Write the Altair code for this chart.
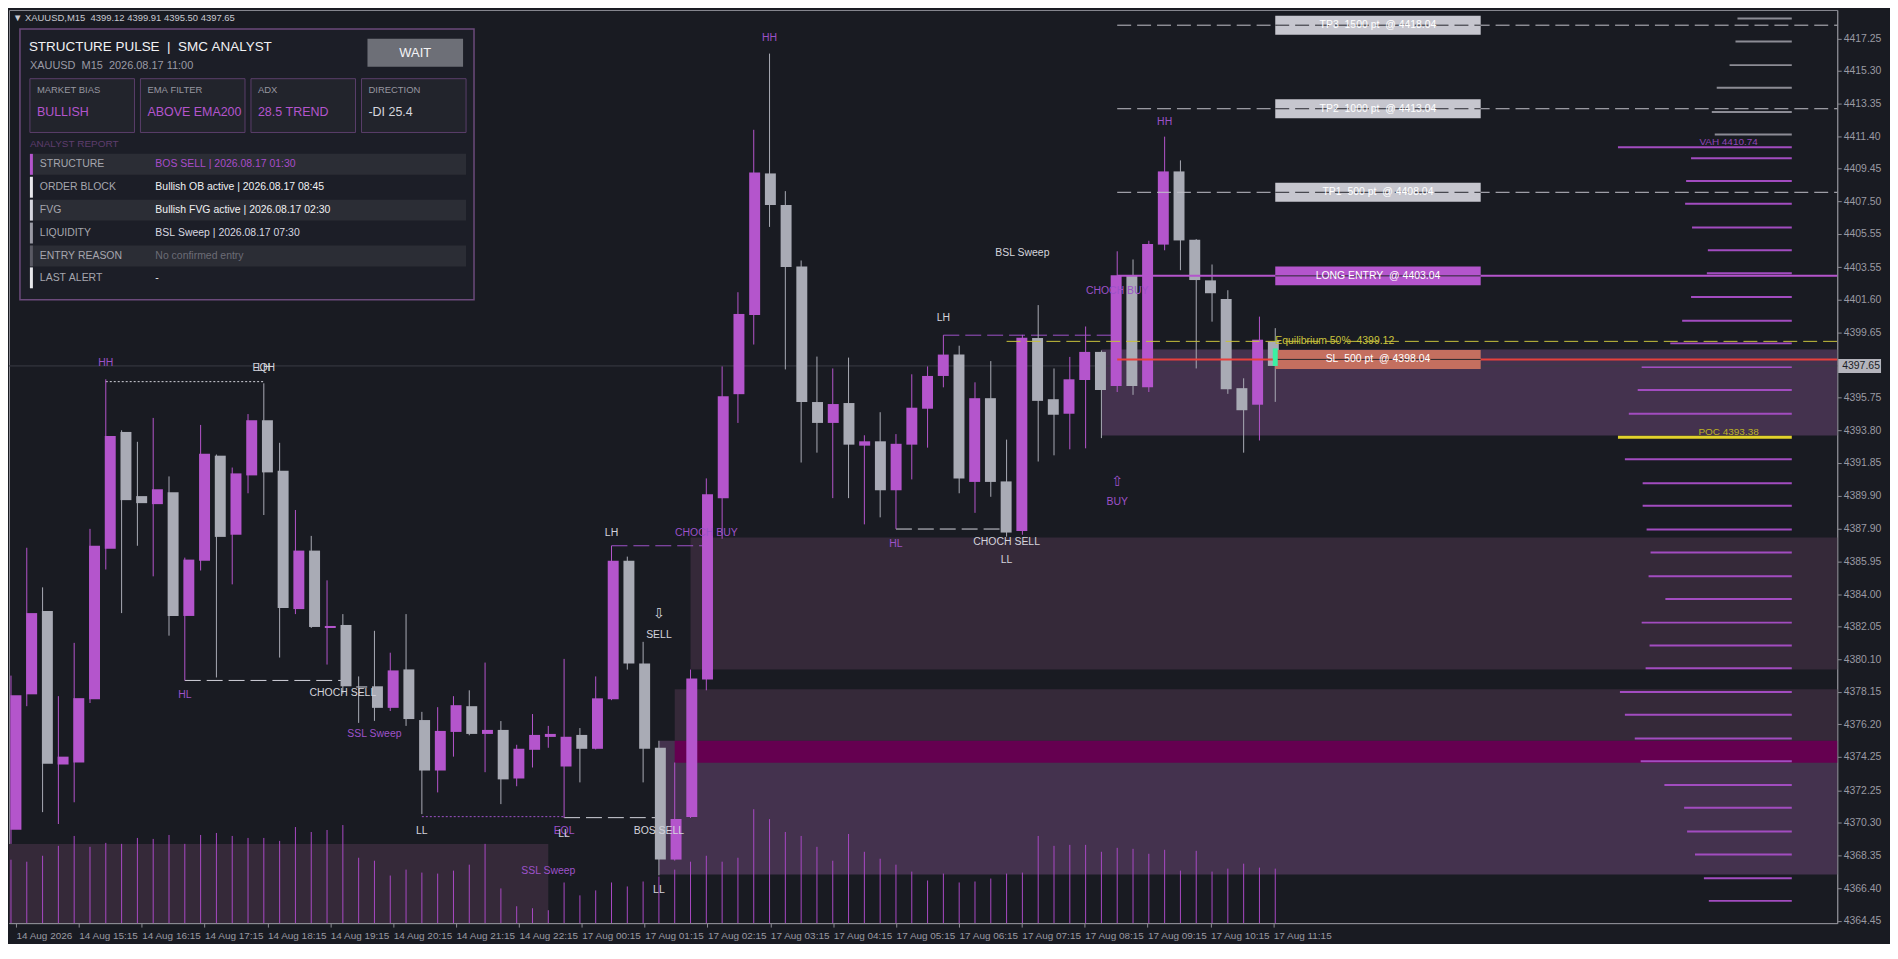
import json
import pandas as pd
import altair as alt

# XAUUSD M15 candles, bar 0 = 14 Aug 14:15 ... bar 80 = 17 Aug 11:15
OPEN = [4369.90, 4378.00, 4382.98, 4373.80, 4373.92, 4377.71, 4386.71, 4393.70, 4389.86, 4389.38,
        4390.09, 4382.69, 4386.00, 4392.28, 4387.55, 4391.10, 4394.40, 4391.38, 4383.10, 4386.60,
        4381.97, 4382.15, 4378.48, 4378.48, 4377.19, 4379.49, 4376.46, 4373.44, 4375.75, 4377.29,
        4375.63, 4375.87, 4372.97, 4374.68, 4375.45, 4373.68, 4375.57, 4374.74, 4377.71, 4385.99,
        4379.84, 4374.80, 4368.11, 4370.66, 4378.89, 4389.74, 4395.96, 4400.70, 4409.17, 4407.28,
        4403.60, 4395.49, 4394.24, 4395.43, 4392.88, 4393.14, 4390.21, 4392.94, 4395.09, 4397.05,
        4398.33, 4390.71, 4395.72, 4390.74, 4387.78, 4399.32, 4395.66, 4394.79, 4396.81, 4398.49,
        4396.45, 4403.03, 4396.37, 4404.91, 4409.29, 4405.20, 4402.77, 4401.65, 4396.32, 4395.33,
        4399.12]
HIGH = [4379.12, 4386.77, 4384.40, 4377.89, 4381.08, 4387.90, 4396.85, 4393.80, 4393.11, 4394.54,
        4391.04, 4386.18, 4394.12, 4392.35, 4391.57, 4394.77, 4396.61, 4393.05, 4389.03, 4387.48,
        4384.82, 4382.80, 4379.07, 4381.80, 4380.49, 4382.80, 4376.95, 4377.23, 4377.89, 4378.24,
        4379.90, 4376.40, 4374.98, 4376.82, 4376.11, 4380.12, 4375.98, 4379.07, 4386.89, 4386.24,
        4381.14, 4375.22, 4373.92, 4379.48, 4390.92, 4397.62, 4402.06, 4411.78, 4416.34, 4408.11,
        4403.96, 4398.21, 4397.50, 4398.15, 4393.50, 4394.88, 4393.57, 4397.15, 4397.62, 4399.49,
        4398.86, 4396.67, 4397.94, 4393.24, 4399.51, 4401.29, 4397.50, 4398.19, 4400.01, 4398.58,
        4404.51, 4404.02, 4405.14, 4411.37, 4409.95, 4405.24, 4403.72, 4402.18, 4396.91, 4400.60,
        4399.91]
LOW = [4369.05, 4377.29, 4370.95, 4370.24, 4371.54, 4377.48, 4385.47, 4382.86, 4386.89, 4385.06,
       4381.51, 4378.83, 4385.41, 4379.01, 4384.58, 4390.03, 4388.73, 4380.20, 4382.80, 4381.97,
       4379.78, 4378.04, 4376.29, 4376.41, 4377.00, 4376.11, 4370.83, 4372.13, 4374.27, 4375.55,
       4373.34, 4371.43, 4372.50, 4373.62, 4374.80, 4370.60, 4372.73, 4374.70, 4377.65, 4379.48,
       4372.73, 4367.17, 4368.05, 4370.60, 4378.24, 4387.31, 4394.24, 4398.93, 4405.97, 4397.44,
       4391.87, 4392.46, 4389.74, 4389.74, 4388.17, 4388.59, 4387.90, 4390.86, 4392.76, 4396.37,
       4390.03, 4388.86, 4389.82, 4387.43, 4387.55, 4391.93, 4392.30, 4392.66, 4392.72, 4393.33,
       4396.09, 4395.92, 4396.09, 4404.57, 4403.38, 4397.50, 4400.30, 4395.98, 4392.46, 4393.19,
       4395.50]
CLOSE = [4377.94, 4382.86, 4373.85, 4374.27, 4377.77, 4386.89, 4393.46, 4389.62, 4389.44, 4390.27,
         4382.69, 4386.06, 4392.40, 4387.42, 4391.22, 4394.40, 4391.28, 4383.16, 4386.60, 4382.03,
         4382.09, 4378.48, 4378.40, 4377.19, 4379.43, 4376.52, 4373.44, 4375.81, 4377.35, 4375.63,
         4375.87, 4372.91, 4374.74, 4375.57, 4375.63, 4375.46, 4374.74, 4377.76, 4385.99, 4379.84,
         4374.74, 4368.11, 4370.54, 4378.95, 4389.97, 4395.84, 4400.76, 4409.23, 4407.28, 4403.57,
         4395.49, 4394.24, 4395.37, 4392.94, 4393.14, 4390.21, 4392.99, 4395.15, 4397.05, 4398.33,
         4390.92, 4395.72, 4390.71, 4387.68, 4399.34, 4395.56, 4394.73, 4396.85, 4398.49, 4396.21,
         4403.07, 4396.45, 4404.95, 4409.29, 4405.16, 4402.79, 4402.00, 4396.26, 4395.00, 4399.22,
         4397.65]
VOLUME = [640, 620, 680, 780, 880, 770, 810, 800, 860, 850, 890, 800, 890, 910, 880, 860, 860, 830,
          970, 920, 940, 990, 660, 630, 480, 540, 510, 500, 530, 590, 800, 350, 170, 150, 130, 410,
          280, 330, 410, 370, 420, 470, 540, 620, 680, 620, 660, 1150, 1050, 920, 880, 770, 630, 900,
          720, 650, 590, 520, 430, 500, 410, 420, 450, 500, 510, 880, 780, 790, 790, 720, 760, 750,
          700, 740, 530, 730, 520, 550, 600, 560, 550]

X_LABELS = ["14 Aug 2026", "14 Aug 15:15", "14 Aug 16:15", "14 Aug 17:15", "14 Aug 18:15",
            "14 Aug 19:15", "14 Aug 20:15", "14 Aug 21:15", "14 Aug 22:15", "17 Aug 00:15",
            "17 Aug 01:15", "17 Aug 02:15", "17 Aug 03:15", "17 Aug 04:15", "17 Aug 05:15",
            "17 Aug 06:15", "17 Aug 07:15", "17 Aug 08:15", "17 Aug 09:15", "17 Aug 10:15",
            "17 Aug 11:15"]
Y_TICKS = [4417.25, 4415.30, 4413.35, 4411.40, 4409.45, 4407.50, 4405.55, 4403.55, 4401.60,
           4399.65, 4395.75, 4393.80, 4391.85, 4389.90, 4387.90, 4385.95, 4384.00, 4382.05,
           4380.10, 4378.15, 4376.20, 4374.25, 4372.25, 4370.30, 4368.35, 4366.40, 4364.45]

# volume profile (right side)
PROFILE_PRICE = [4418.44, 4417.07, 4415.65, 4414.29, 4412.85, 4411.50, 4410.08, 4408.72, 4407.36,
                 4405.93, 4404.57, 4403.19, 4401.78, 4400.36, 4399.00, 4397.58, 4396.21, 4394.79,
                 4393.38, 4392.07, 4390.63, 4389.28, 4387.86, 4386.49, 4385.07, 4383.71, 4382.29,
                 4380.92, 4379.56, 4378.14, 4376.78, 4375.36, 4374.00, 4372.57, 4371.21, 4369.79,
                 4368.42, 4367.00, 4365.64]
PROFILE_VOL = [55, 57, 63, 76, 81, 78, 102, 107, 108, 101, 85, 86, 102, 111, 123, 152, 156, 165,
               176, 169, 151, 151, 147, 143, 145, 128, 152, 144, 148, 174, 169, 159, 153, 129, 109,
               106, 98, 89, 84]
VAH = 4410.74
POC = 4393.38

# supply / demand zones (None = chart edge)
ZONE_START = [None, 43, 42, 41, 42, 69]
ZONE_END = [34, None, None, None, None, None]
ZONE_TOP = [4369.05, 4387.38, 4378.30, 4375.22, 4375.22, 4398.63]
ZONE_BOTTOM = [None, 4379.49, 4375.22, 4367.22, 4373.91, 4393.49]
ZONE_KIND = ["dark", "dark", "dark", "light", "magenta", "light"]

# structure lines
SEG_START = [6, 11, 26, 35, 38, 56, 59]
SEG_END = [16, 21, 35, 41, 44, 63, 70]
SEG_PRICE = [4396.71, 4378.83, 4370.68, 4370.62, 4386.89, 4387.89, 4399.49]
SEG_STYLE = ["dot", "dash", "dot", "dash", "dash", "dash", "dash"]
SEG_TONE = ["bear", "bear", "bull", "bear", "bull", "bear", "bull"]

# structure labels
LBL_TEXT = ["HH", "EQH", "LH", "HL", "CHOCH SELL", "SSL Sweep", "LL", "EQL", "LL", "SSL Sweep",
            "BOS SELL", "LL", "LH", "SELL", "CHOCH BUY", "HH", "HL", "LH", "BSL Sweep",
            "CHOCH SELL", "LL", "CHOCH BUY", "HH", "BUY"]
LBL_BAR = [6, 16, 16, 11, 21, 23, 26, 35, 35, 34, 41, 41, 38, 41, 44, 48, 56, 59, 64, 63, 63, 70, 73, 70]
LBL_PRICE = [4397.80, 4397.50, 4397.50, 4377.94, 4378.06, 4375.63, 4369.84, 4369.84, 4369.66,
             4367.40, 4369.81, 4366.26, 4387.63, 4381.56, 4387.66, 4417.27, 4387.01, 4400.49,
             4404.43, 4387.13, 4386.06, 4402.16, 4412.25, 4389.50]
LBL_TONE = ["bull", "bear", "bear", "bull", "bear", "bull", "bear", "bull", "bear", "bull", "bear",
            "bear", "bear", "bear", "bull", "bull", "bull", "bear", "bear", "bear", "bear", "bull",
            "bull", "bull"]
ARROW_TEXT = ["\u21e9", "\u21e7"]
ARROW_BAR = [41, 70]
ARROW_PRICE = [4382.80, 4390.68]
ARROW_TONE = ["bear", "bull"]

# trade levels
LEVEL_NAME = ["TP3", "TP2", "TP1", "ENTRY", "EQ", "SL"]
LEVEL_PRICE = [4418.04, 4413.04, 4408.04, 4403.04, 4399.12, 4398.04]
LEVEL_START = [70, 70, 70, 70, 63, 70]
LEVEL_TEXT = ["TP3  1500 pt  @ 4418.04", "TP2  1000 pt  @ 4413.04", "TP1  500 pt  @ 4408.04",
              "LONG ENTRY  @ 4403.04", "Equilibrium 50%  4399.12", "SL  500 pt  @ 4398.04"]
BOX_START, BOX_END = 80, 93
MARKER_TOP = 4398.70

# panel content
PANEL_TITLE = "STRUCTURE PULSE  |  SMC ANALYST"
PANEL_SUB = "XAUUSD  M15  2026.08.17 11:00"
CARD_LABEL = ["MARKET BIAS", "EMA FILTER", "ADX", "DIRECTION"]
CARD_VALUE = ["BULLISH", "ABOVE EMA200", "28.5 TREND", "-DI 25.4"]
ROW_NAME = ["STRUCTURE", "ORDER BLOCK", "FVG", "LIQUIDITY", "ENTRY REASON", "LAST ALERT"]
ROW_VALUE = ["BOS SELL | 2026.08.17 01:30", "Bullish OB active | 2026.08.17 08:45",
             "Bullish FVG active | 2026.08.17 02:30", "BSL Sweep | 2026.08.17 07:30",
             "No confirmed entry", "-"]
HEADER = "\u25bc XAUUSD,M15  4399.12 4399.91 4395.50 4397.65"

# ---------------- look ----------------
W, H = 1836, 917
XMIN, XMAX = -0.125, 115.56
YMIN, YMAX = 4364.31, 4418.95
KX = W / 1851
BG = "#191b22"
UP, DOWN = "#b455cc", "#a9abb5"
FRAME = "#8a8a92"
TONE = {"bull": "#9d52c9", "bear": "#d4d4dc"}
ZONE_COLORS = {"dark": "#352939", "light": "#44324e", "magenta": "#650050"}
FONT = "Liberation Sans"
NARROW = "Liberation Sans Narrow, Liberation Sans"

xs = alt.Scale(domain=[XMIN, XMAX], nice=False, zero=False)
ys = alt.Scale(domain=[YMIN, YMAX], nice=False, zero=False)


def bx(f):
    return alt.X(f + ":Q", scale=xs, axis=None)


def by(f):
    return alt.Y(f + ":Q", scale=ys, axis=None)


def col(f):
    return alt.Color(f + ":N", scale=None)


def keep_spaces(s):
    # svg collapses runs of spaces, the terminal text uses double spaces
    return s.replace(" ", "\u00a0")


# candles
cd = pd.DataFrame({"i": range(len(OPEN)), "open": OPEN, "high": HIGH, "low": LOW,
                   "close": CLOSE, "vol": VOLUME})
cd["c"] = [UP if c >= o else DOWN for o, c in zip(OPEN, CLOSE)]
cd["zero"] = 0

x_axis = alt.Axis(values=list(range(0, len(OPEN), 4)),
                  labelExpr=json.dumps(X_LABELS) + "[round(datum.value / 4)]",
                  labelAlign="left", labelColor="#9a9aa2", labelFont=NARROW, labelFontSize=10,
                  labelPadding=3, labelOverlap=False, labelBound=False, labelFlush=False,
                  tickColor=FRAME, tickSize=4, domainColor=FRAME, grid=False, title=None)
y_axis = alt.Axis(orient="right", values=Y_TICKS, format=".2f", labelColor="#9a9aa2",
                  labelFont=NARROW, labelFontSize=10.5, labelPadding=2, labelOverlap=False,
                  labelBound=False, tickColor=FRAME, tickSize=4, domainColor=FRAME, grid=False,
                  title=None)

wick = alt.Chart(cd).mark_rule(strokeWidth=1).encode(
    x=bx("i"), y=by("low"), y2="high", color=col("c"))
body = alt.Chart(cd).mark_bar(size=11).encode(
    x=alt.X("i:Q", scale=xs, axis=x_axis),
    y=alt.Y("open:Q", scale=ys, axis=y_axis),
    y2="close", color=col("c"))
vol = alt.Chart(cd).mark_rule(strokeWidth=1, color="#a849c4").encode(
    x=bx("i"),
    y=alt.Y("vol:Q", scale=alt.Scale(domain=[0, 9220], nice=False), axis=None),
    y2="zero")

# zones
zd = pd.DataFrame({
    "x0": [XMIN if s is None else s for s in ZONE_START],
    "x1": [XMAX if e is None else e for e in ZONE_END],
    "top": ZONE_TOP,
    "bot": [YMIN if b is None else b for b in ZONE_BOTTOM],
    "c": [ZONE_COLORS[k] for k in ZONE_KIND]})
zones = alt.Chart(zd).mark_rect().encode(x=bx("x0"), x2="x1", y=by("top"), y2="bot", color=col("c"))

# volume profile
ps = alt.Scale(domain=[0, 200], range=[1805 * KX, 1605 * KX], nice=False, zero=False)
pf = pd.DataFrame({"price": PROFILE_PRICE + [VAH], "v": PROFILE_VOL + [max(PROFILE_VOL)]})
pf["c"] = ["#8c8c95" if p > VAH else ("#e2d22c" if p == POC else "#a24cc0") for p in pf["price"]]
pf["w"] = [3 if p == POC else 2 for p in pf["price"]]
pf["zero"] = 0
prof = alt.Chart(pf).mark_rule().encode(
    x=alt.X("v:Q", scale=ps, axis=None), x2="zero", y=by("price"), color=col("c"),
    strokeWidth=alt.StrokeWidth("w:Q", scale=None))
ptd = pd.DataFrame({"price": [VAH, POC], "v": [64, 64],
                    "t": [f"VAH {VAH:.2f}", f"POC {POC:.2f}"], "c": ["#8f45b8", "#bdb224"]})
prof_txt = alt.Chart(ptd).mark_text(font=FONT, fontSize=10, dy=-5).encode(
    x=alt.X("v:Q", scale=ps, axis=None), y=by("price"), text="t:N", color=col("c"))

# current price line
cur = alt.Chart(pd.DataFrame({"p": [CLOSE[-1]], "x0": [XMIN], "x1": [XMAX]})).mark_rule(
    color="#3a3c46", strokeWidth=1).encode(x=bx("x0"), x2="x1", y=by("p"))

# structure lines
sd = pd.DataFrame({"x0": SEG_START, "x1": SEG_END, "p": SEG_PRICE, "s": SEG_STYLE,
                   "c": [TONE[t] for t in SEG_TONE]})
dots = alt.Chart(sd[sd.s == "dot"]).mark_rule(strokeDash=[2, 2], strokeWidth=1).encode(
    x=bx("x0"), x2="x1", y=by("p"), color=col("c"))
dashes = alt.Chart(sd[sd.s == "dash"]).mark_rule(strokeDash=[16, 6], strokeWidth=1).encode(
    x=bx("x0"), x2="x1", y=by("p"), color=col("c"))

# trade levels
LINE_C = {"TP3": "#c2c2ca", "TP2": "#c2c2ca", "TP1": "#c2c2ca", "ENTRY": UP, "EQ": "#c9c23c",
          "SL": "#e8413c"}
BOX_C = {"TP3": "#c6c6ce", "TP2": "#c6c6ce", "TP1": "#c6c6ce", "ENTRY": "#b455cc", "SL": "#c46f5f"}
ld = pd.DataFrame({"n": LEVEL_NAME, "p": LEVEL_PRICE, "x0": LEVEL_START,
                   "t": [keep_spaces(t) for t in LEVEL_TEXT]})
ld["x1"] = XMAX
ld["b0"] = BOX_START
ld["b1"] = BOX_END
ld["bm"] = (BOX_START + BOX_END) / 2
ld["c"] = ld.n.map(LINE_C)
dashed_names = ["TP3", "TP2", "TP1", "EQ"]
lvl_dash = alt.Chart(ld[ld.n.isin(dashed_names)]).mark_rule(strokeDash=[14, 6], strokeWidth=1).encode(
    x=bx("x0"), x2="x1", y=by("p"), color=col("c"))
lvl_solid = alt.Chart(ld[~ld.n.isin(dashed_names)]).mark_rule(strokeWidth=2).encode(
    x=bx("x0"), x2="x1", y=by("p"), color=col("c"))
bd = ld[ld.n != "EQ"].copy()
bd["bc"] = bd.n.map(BOX_C)
boxes = alt.Chart(bd).mark_rule(strokeWidth=19).encode(
    x=bx("b0"), x2="b1", y=by("p"), color=col("bc"))
box_dash = alt.Chart(bd[bd.n.str.startswith("TP")]).mark_rule(
    strokeDash=[14, 6], strokeWidth=1, color="#26272e").encode(x=bx("b0"), x2="b1", y=by("p"))
box_solid = alt.Chart(bd[~bd.n.str.startswith("TP")]).mark_rule(
    strokeWidth=1, color="#26272e").encode(x=bx("b0"), x2="b1", y=by("p"))
box_txt = alt.Chart(bd).mark_text(font=FONT, fontSize=10.5, color="#ffffff").encode(
    x=bx("bm"), y=by("p"), text="t:N")
eq_txt = alt.Chart(ld[ld.n == "EQ"]).mark_text(
    font=FONT, fontSize=10.5, color="#c9c23c", align="left").encode(x=bx("b0"), y=by("p"), text="t:N")
marker = alt.Chart(pd.DataFrame({"i": [len(OPEN) - 1], "a": [CLOSE[-1]], "b": [MARKER_TOP]})).mark_rule(
    strokeWidth=5, color="#3bf0a2").encode(x=bx("i"), y=by("a"), y2="b")

# structure labels
ad = pd.DataFrame({"i": LBL_BAR, "p": LBL_PRICE, "t": LBL_TEXT, "c": [TONE[t] for t in LBL_TONE]})
labels = alt.Chart(ad).mark_text(font=FONT, fontSize=10.5).encode(
    x=bx("i"), y=by("p"), text="t:N", color=col("c"))
ard = pd.DataFrame({"i": ARROW_BAR, "p": ARROW_PRICE, "t": ARROW_TEXT,
                    "c": [TONE[t] for t in ARROW_TONE]})
arrows = alt.Chart(ard).mark_text(font="DejaVu Sans", fontSize=14).encode(
    x=bx("i"), y=by("p"), text="t:N", color=col("c"))

# analyst panel (fixed overlay, pixel coordinates)
rects = [dict(x=11, x2=467, y=19, y2=291, f="#1c1e27", s="#6b4a7b", w=1.5),
         dict(x=360, x2=456, y=29, y2=57, f="#6d6f77", s="#6d6f77", w=0)]
card_x = [21, 132, 243, 354]
for x0 in card_x:
    rects.append(dict(x=x0, x2=x0 + 105, y=69, y2=123, f="#22242c", s="#5b3e6b", w=1))
row_y = [155, 178, 201, 224, 247, 269]
accent = ["#b455cc", "#e8e8ec", "#d8d8e0", "#9a9aa4", "#5a5a64", "#e8e8ec"]
for k, yc in enumerate(row_y):
    if k % 2 == 0:
        rects.append(dict(x=21, x2=459, y=yc - 10.5, y2=yc + 10.5, f="#2b2d35", s="#2b2d35", w=0))
    rects.append(dict(x=21, x2=24, y=yc - 10.5, y2=yc + 10.5, f=accent[k], s=accent[k], w=0))
prd = pd.DataFrame(rects)
panel_rect = alt.Chart(prd).mark_rect().encode(
    x=alt.X("x:Q", scale=None, axis=None), x2="x2",
    y=alt.Y("y:Q", scale=None, axis=None), y2="y2",
    fill=alt.Fill("f:N", scale=None), stroke=alt.Stroke("s:N", scale=None),
    strokeWidth=alt.StrokeWidth("w:Q", scale=None))

texts = [dict(x=4, y=8, t=HEADER, c="#c8c8d0", s=9.5),
         dict(x=20, y=37, t=PANEL_TITLE, c="#f2f2f4", s=13.5),
         dict(x=21, y=56, t=PANEL_SUB, c="#9a9aa4", s=11),
         dict(x=21, y=135, t="ANALYST REPORT", c="#5e3d6d", s=10)]
card_c = [UP, UP, UP, "#d6d6de"]
for x0, lab, val, c in zip(card_x, CARD_LABEL, CARD_VALUE, card_c):
    texts.append(dict(x=x0 + 7, y=80, t=lab, c="#9797a0", s=9.5))
    texts.append(dict(x=x0 + 7, y=102, t=val, c=c, s=12.5))
row_c = ["#a84cc8", "#f0f0f2", "#f0f0f2", "#d8d8e0", "#6c6c76", "#e8e8ec"]
for yc, name, val, c in zip(row_y, ROW_NAME, ROW_VALUE, row_c):
    texts.append(dict(x=31, y=yc, t=name, c="#a6a6ae", s=10.5))
    texts.append(dict(x=147, y=yc, t=val, c=c, s=10.5))
ptx = pd.DataFrame(texts)
ptx["t"] = [keep_spaces(t) for t in ptx["t"]]
panel_txt = alt.Chart(ptx).mark_text(font=FONT, align="left", baseline="middle").encode(
    x=alt.X("x:Q", scale=None, axis=None), y=alt.Y("y:Q", scale=None, axis=None),
    text="t:N", color=col("c"), size=alt.Size("s:Q", scale=None))
wait_txt = alt.Chart(pd.DataFrame({"x": [408], "y": [43], "t": ["WAIT"]})).mark_text(
    font=FONT, fontSize=13, color="#f4f4f6", baseline="middle").encode(
    x=alt.X("x:Q", scale=None, axis=None), y=alt.Y("y:Q", scale=None, axis=None), text="t:N")

# current price tag on the axis
tag = pd.DataFrame({"p": [CLOSE[-1]], "t": [f"{CLOSE[-1]:.2f}"]})
price_tag = alt.Chart(tag).mark_rule(strokeWidth=14, color="#b4b4bc").encode(
    x=alt.value(W + 1), x2=alt.value(W + 44), y=by("p"))
price_txt = alt.Chart(tag).mark_text(font=NARROW, fontSize=10.5, color="#1a1c24", align="left").encode(
    x=alt.value(W + 5), y=by("p"), text="t:N")

chart = alt.layer(
    zones, vol, prof, prof_txt, cur, dots, dashes, wick, body,
    lvl_dash, lvl_solid, boxes, box_dash, box_solid, box_txt, eq_txt, marker,
    labels, arrows, panel_rect, panel_txt, wait_txt, price_tag, price_txt
).resolve_scale(
    x="independent", y="independent"
).properties(
    width=W, height=H, background=BG,
    padding={"left": 0, "top": 0, "right": 2, "bottom": 2}
).configure_view(stroke=FRAME, strokeWidth=1)

chart.save("out.html", embed_options={"renderer": "svg", "actions": False})
